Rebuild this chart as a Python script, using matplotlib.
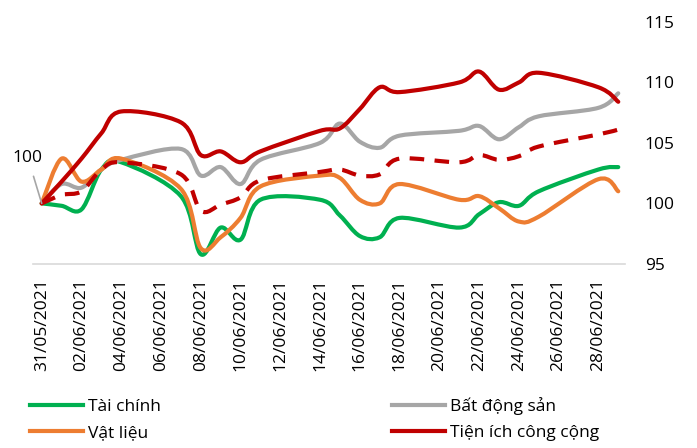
import numpy as np
import pandas as pd
import matplotlib
matplotlib.use('Agg')
import matplotlib.pyplot as plt
import matplotlib.dates as mdates
from matplotlib.path import Path
from matplotlib.patches import PathPatch
from matplotlib.lines import Line2D

plt.rcParams['font.family'] = ['Open Sans', 'DejaVu Sans']

# ngay giao dich (trading days)
ngay = ['31/05/2021', '01/06/2021', '02/06/2021', '03/06/2021', '04/06/2021',
        '07/06/2021', '08/06/2021', '09/06/2021', '10/06/2021', '11/06/2021',
        '14/06/2021', '15/06/2021', '16/06/2021', '17/06/2021', '18/06/2021',
        '21/06/2021', '22/06/2021', '23/06/2021', '24/06/2021', '25/06/2021',
        '28/06/2021', '29/06/2021']

tai_chinh = [100, 99.8, 99.5, 102.8, 103.4, 100.6, 95.8, 98.0, 97.0, 100.3,
             100.3, 99.0, 97.3, 97.2, 98.8, 98.0, 99.1, 100.1, 99.8, 101.0,
             102.8, 103.0]
bat_dong_san = [100, 101.6, 101.3, 102.8, 103.6, 104.5, 102.3, 103.0, 101.6, 103.6,
                105.0, 106.6, 105.1, 104.6, 105.6, 106.0, 106.4, 105.3, 106.3, 107.2,
                107.9, 109.1]
vat_lieu = [100, 103.7, 101.8, 102.8, 103.7, 101.2, 96.3, 97.2, 98.8, 101.4,
            102.3, 102.1, 100.3, 100.0, 101.6, 100.3, 100.6, 99.6, 98.5, 98.9,
            102.0, 101.0]
tien_ich = [100, 101.8, 103.7, 105.8, 107.6, 106.7, 104.0, 104.3, 103.4, 104.3,
            106.0, 106.2, 107.8, 109.6, 109.2, 110.0, 110.9, 109.4, 110.0, 110.8,
            109.6, 108.4]
vn_index = [100, 100.7, 101.0, 102.8, 103.4, 102.4, 99.4, 99.9, 100.5, 101.9,
            102.6, 102.8, 102.3, 102.4, 103.7, 103.4, 104.0, 103.6, 103.9, 104.7,
            105.7, 106.1]

mau = {'Tài chính': '#00B050', 'Bất động sản': '#A6A6A6',
       'Vật liệu': '#ED7D31', 'Tiện ích công cộng': '#C00000'}


def duong_cong(x, y):
    # duong muot kieu Excel: Bezier bac 3 qua tung diem
    pts = np.column_stack([x, y])
    n = len(pts)
    verts = [pts[0]]
    codes = [Path.MOVETO]
    for i in range(n - 1):
        p0 = pts[max(i - 1, 0)]
        p1 = pts[i]
        p2 = pts[i + 1]
        p3 = pts[min(i + 2, n - 1)]
        verts += [p1 + (p2 - p0) / 6, p2 - (p3 - p1) / 6, p2]
        codes += [Path.CURVE4] * 3
    return Path(verts, codes)


x = mdates.date2num(pd.to_datetime(ngay, format='%d/%m/%Y'))

fig = plt.figure(figsize=(6.97, 4.48), dpi=100)
ax = fig.add_axes([0.047, 0.411, 0.85, 0.54])

chuoi = [('Tài chính', tai_chinh), ('Bất động sản', bat_dong_san),
         ('Vật liệu', vat_lieu), ('Tiện ích công cộng', tien_ich)]
for ten, y in chuoi:
    ax.add_patch(PathPatch(duong_cong(x, y), fill=False, edgecolor=mau[ten],
                           lw=3, capstyle='round', joinstyle='round'))
ax.add_patch(PathPatch(duong_cong(x, vn_index), fill=False, edgecolor='#C00000',
                       lw=3, linestyle=(0, (3.5, 2.5))))

ax.annotate('100', xy=(x[0], 100), xytext=(-10, 33), textcoords='offset points',
            ha='center', va='center', fontsize=12.5,
            arrowprops=dict(arrowstyle='-', color='#A6A6A6', lw=1.2,
                            shrinkA=6, shrinkB=0))

ax.set_xlim(x[0] - 0.45, x[0] + 29.35)
ax.set_ylim(95, 115)
ax.set_yticks([95, 100, 105, 110, 115])
ax.yaxis.tick_right()
ax.set_xticks(mdates.date2num(pd.date_range('2021-05-31', '2021-06-28', freq='2D')))
ax.xaxis.set_major_formatter(mdates.DateFormatter('%d/%m/%Y'))
ax.tick_params(axis='x', length=0, pad=10, labelsize=12.5, labelrotation=90)
ax.tick_params(axis='y', length=0, pad=14, labelsize=12.5)
for s in ['top', 'left', 'right']:
    ax.spines[s].set_visible(False)
ax.spines['bottom'].set_color('#D9D9D9')
ax.spines['bottom'].set_linewidth(1.2)

handles = [Line2D([], [], color=mau[t], lw=3) for t, _ in chuoi]
labels = [t for t, _ in chuoi]
# thu tu cot: Tai chinh, Vat lieu | Bat dong san, Tien ich
order = [0, 2, 1, 3]
fig.legend([handles[i] for i in order], [labels[i] for i in order],
           loc='upper left', bbox_to_anchor=(0.033, 0.13), ncol=2,
           frameon=False, fontsize=12.5, handlelength=3.05, handletextpad=0.3,
           columnspacing=13.3, labelspacing=0.6, borderaxespad=0)

fig.savefig('out.png', dpi=100)
